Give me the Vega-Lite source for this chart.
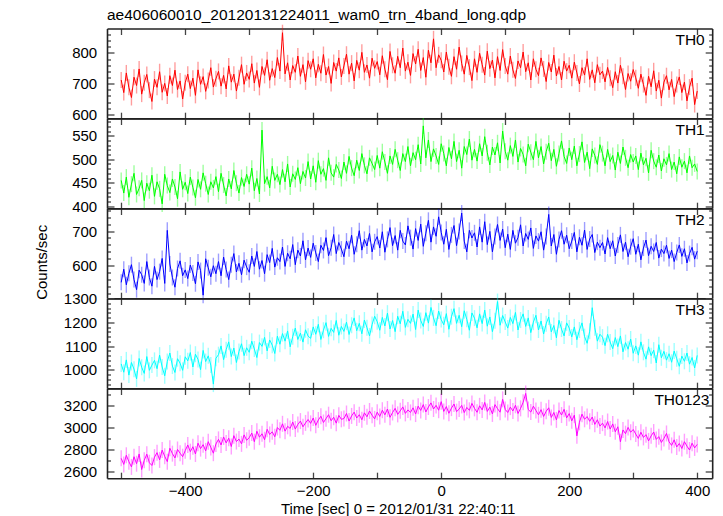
{
"$schema": "https://vega.github.io/schema/vega-lite/v6.json",
"background": "white",
"padding": {"left": 34, "top": 7.5, "right": 10.5, "bottom": 1},
"title": {"text": "ae406060010_20120131224011_wam0_trn_4band_long.qdp", "anchor": "start", "frame": "group", "fontSize": 15.5, "fontWeight": "normal", "baseline": "alphabetic", "offset": -11.2, "color": "#000", "font": "Liberation Sans"},
"datasets": {"d": [
{"t":-500,"a":712,"b":455,"c":552,"d":1025,"e":2720},
{"t":-496,"a":671,"b":428,"c":590,"d":990,"e":2665},
{"t":-492,"a":735,"b":462,"c":545,"d":1042,"e":2748},
{"t":-488,"a":688,"b":419,"c":578,"d":978,"e":2690},
{"t":-484,"a":655,"b":447,"c":603,"d":1031,"e":2642},
{"t":-480,"a":721,"b":470,"c":560,"d":1003,"e":2735},
{"t":-476,"a":694,"b":425,"c":531,"d":962,"e":2671},
{"t":-472,"a":748,"b":438,"c":587,"d":1048,"e":2760},
{"t":-468,"a":666,"b":455,"c":574,"d":1011,"e":2618},
{"t":-464,"a":703,"b":412,"c":549,"d":985,"e":2702},
{"t":-460,"a":730,"b":449,"c":612,"d":1056,"e":2758},
{"t":-456,"a":679,"b":433,"c":566,"d":998,"e":2680},
{"t":-452,"a":642,"b":466,"c":541,"d":1020,"e":2655},
{"t":-448,"a":715,"b":421,"c":598,"d":1040,"e":2731},
{"t":-444,"a":688,"b":452,"c":560,"d":1005,"e":2772},
{"t":-440,"a":739,"b":437,"c":583,"d":1062,"e":2706},
{"t":-436,"a":672,"b":405,"c":621,"d":1012,"e":2795},
{"t":-432,"a":701,"b":468,"c":549,"d":975,"e":2738},
{"t":-428,"a":660,"b":444,"c":702,"d":1035,"e":2690},
{"t":-424,"a":726,"b":429,"c":605,"d":1071,"e":2812},
{"t":-420,"a":694,"b":458,"c":566,"d":1016,"e":2763},
{"t":-416,"a":744,"b":441,"c":538,"d":989,"e":2724},
{"t":-412,"a":681,"b":416,"c":592,"d":1047,"e":2801},
{"t":-408,"a":709,"b":473,"c":614,"d":1028,"e":2767},
{"t":-404,"a":650,"b":436,"c":571,"d":998,"e":2735},
{"t":-400,"a":703,"b":451,"c":588,"d":1055,"e":2790},
{"t":-396,"a":731,"b":427,"c":563,"d":1038,"e":2842},
{"t":-392,"a":684,"b":462,"c":602,"d":1073,"e":2781},
{"t":-388,"a":718,"b":440,"c":579,"d":1012,"e":2826},
{"t":-384,"a":662,"b":418,"c":548,"d":1066,"e":2760},
{"t":-380,"a":745,"b":457,"c":611,"d":1044,"e":2858},
{"t":-376,"a":698,"b":436,"c":586,"d":1001,"e":2809},
{"t":-372,"a":723,"b":471,"c":515,"d":1082,"e":2845},
{"t":-368,"a":675,"b":448,"c":620,"d":1035,"e":2788},
{"t":-364,"a":710,"b":425,"c":594,"d":1059,"e":2872},
{"t":-360,"a":752,"b":452,"c":568,"d":1020,"e":2820},
{"t":-356,"a":689,"b":439,"c":600,"d":940,"e":2767},
{"t":-352,"a":716,"b":463,"c":577,"d":1049,"e":2851},
{"t":-348,"a":740,"b":431,"c":612,"d":1064,"e":2893},
{"t":-344,"a":692,"b":470,"c":571,"d":1101,"e":2842},
{"t":-340,"a":727,"b":445,"c":625,"d":1043,"e":2915},
{"t":-336,"a":683,"b":422,"c":589,"d":1085,"e":2861},
{"t":-332,"a":758,"b":458,"c":560,"d":1118,"e":2904},
{"t":-328,"a":705,"b":437,"c":603,"d":1056,"e":2828},
{"t":-324,"a":731,"b":476,"c":635,"d":1092,"e":2927},
{"t":-320,"a":676,"b":449,"c":582,"d":1031,"e":2873},
{"t":-316,"a":719,"b":428,"c":607,"d":1077,"e":2896},
{"t":-312,"a":762,"b":461,"c":574,"d":1110,"e":2852},
{"t":-308,"a":698,"b":442,"c":616,"d":1060,"e":2934},
{"t":-304,"a":735,"b":468,"c":596,"d":1093,"e":2885},
{"t":-300,"a":714,"b":447,"c":581,"d":1074,"e":2908},
{"t":-296,"a":765,"b":481,"c":628,"d":1121,"e":2951},
{"t":-292,"a":702,"b":433,"c":598,"d":1088,"e":2872},
{"t":-288,"a":743,"b":459,"c":641,"d":1052,"e":2967},
{"t":-284,"a":688,"b":426,"c":590,"d":1115,"e":2913},
{"t":-280,"a":756,"b":562,"c":615,"d":1099,"e":2944},
{"t":-276,"a":727,"b":448,"c":577,"d":1137,"e":2890},
{"t":-272,"a":778,"b":463,"c":632,"d":1080,"e":2985},
{"t":-268,"a":711,"b":439,"c":609,"d":1126,"e":2938},
{"t":-264,"a":749,"b":485,"c":650,"d":1104,"e":2962},
{"t":-260,"a":720,"b":455,"c":596,"d":1069,"e":2917},
{"t":-256,"a":785,"b":468,"c":623,"d":1142,"e":3001},
{"t":-252,"a":741,"b":446,"c":612,"d":1108,"e":2976},
{"t":-248,"a":866,"b":478,"c":654,"d":1153,"e":3035},
{"t":-244,"a":732,"b":452,"c":598,"d":1121,"e":2968},
{"t":-240,"a":768,"b":490,"c":636,"d":1164,"e":3012},
{"t":-236,"a":712,"b":441,"c":620,"d":1097,"e":2993},
{"t":-232,"a":759,"b":469,"c":661,"d":1140,"e":3051},
{"t":-228,"a":737,"b":457,"c":603,"d":1176,"e":2987},
{"t":-224,"a":790,"b":482,"c":645,"d":1128,"e":3029},
{"t":-220,"a":724,"b":448,"c":628,"d":1155,"e":3060},
{"t":-216,"a":762,"b":474,"c":672,"d":1117,"e":3008},
{"t":-212,"a":706,"b":460,"c":617,"d":1169,"e":3043},
{"t":-208,"a":775,"b":495,"c":651,"d":1142,"e":3074},
{"t":-204,"a":747,"b":458,"c":624,"d":1133,"e":3039},
{"t":-200,"a":781,"b":486,"c":665,"d":1181,"e":3088},
{"t":-196,"a":719,"b":451,"c":637,"d":1150,"e":3021},
{"t":-192,"a":763,"b":497,"c":612,"d":1192,"e":3070},
{"t":-188,"a":734,"b":468,"c":659,"d":1128,"e":3104},
{"t":-184,"a":795,"b":480,"c":644,"d":1167,"e":3047},
{"t":-180,"a":728,"b":455,"c":681,"d":1199,"e":3082},
{"t":-176,"a":756,"b":503,"c":629,"d":1141,"e":3118},
{"t":-172,"a":701,"b":471,"c":652,"d":1175,"e":3063},
{"t":-168,"a":769,"b":462,"c":690,"d":1158,"e":3095},
{"t":-164,"a":741,"b":489,"c":635,"d":1208,"e":3041},
{"t":-160,"a":784,"b":477,"c":667,"d":1146,"e":3112},
{"t":-156,"a":722,"b":459,"c":648,"d":1183,"e":3076},
{"t":-152,"a":758,"b":494,"c":626,"d":1162,"e":3083},
{"t":-148,"a":796,"b":470,"c":671,"d":1201,"e":3129},
{"t":-144,"a":731,"b":506,"c":649,"d":1149,"e":3060},
{"t":-140,"a":767,"b":481,"c":688,"d":1188,"e":3107},
{"t":-136,"a":709,"b":465,"c":633,"d":1219,"e":3141},
{"t":-132,"a":776,"b":498,"c":662,"d":1165,"e":3088},
{"t":-128,"a":744,"b":476,"c":701,"d":1196,"e":3118},
{"t":-124,"a":802,"b":512,"c":645,"d":1152,"e":3072},
{"t":-120,"a":737,"b":487,"c":676,"d":1210,"e":3135},
{"t":-116,"a":761,"b":469,"c":657,"d":1178,"e":3099},
{"t":-112,"a":718,"b":503,"c":693,"d":1143,"e":3152},
{"t":-108,"a":783,"b":491,"c":640,"d":1191,"e":3113},
{"t":-104,"a":750,"b":478,"c":669,"d":1226,"e":3080},
{"t":-100,"a":772,"b":508,"c":684,"d":1203,"e":3141},
{"t":-96,"a":729,"b":481,"c":651,"d":1167,"e":3102},
{"t":-92,"a":791,"b":516,"c":698,"d":1221,"e":3159},
{"t":-88,"a":747,"b":494,"c":639,"d":1185,"e":3117},
{"t":-84,"a":713,"b":470,"c":676,"d":1239,"e":3170},
{"t":-80,"a":805,"b":507,"c":710,"d":1172,"e":3094},
{"t":-76,"a":760,"b":489,"c":658,"d":1208,"e":3138},
{"t":-72,"a":734,"b":521,"c":687,"d":1161,"e":3176},
{"t":-68,"a":789,"b":498,"c":645,"d":1226,"e":3121},
{"t":-64,"a":752,"b":476,"c":702,"d":1194,"e":3153},
{"t":-60,"a":816,"b":512,"c":671,"d":1247,"e":3189},
{"t":-56,"a":741,"b":495,"c":660,"d":1179,"e":3130},
{"t":-52,"a":770,"b":527,"c":715,"d":1213,"e":3162},
{"t":-48,"a":727,"b":486,"c":681,"d":1196,"e":3139},
{"t":-44,"a":798,"b":514,"c":648,"d":1235,"e":3181},
{"t":-40,"a":764,"b":499,"c":707,"d":1170,"e":3124},
{"t":-36,"a":812,"b":531,"c":673,"d":1252,"e":3196},
{"t":-32,"a":743,"b":490,"c":720,"d":1208,"e":3157},
{"t":-28,"a":785,"b":571,"c":656,"d":1183,"e":3210},
{"t":-24,"a":721,"b":503,"c":694,"d":1241,"e":3143},
{"t":-20,"a":809,"b":541,"c":731,"d":1197,"e":3188},
{"t":-16,"a":768,"b":495,"c":668,"d":1263,"e":3226},
{"t":-12,"a":846,"b":522,"c":712,"d":1219,"e":3170},
{"t":-8,"a":752,"b":507,"c":685,"d":1186,"e":3203},
{"t":-4,"a":794,"b":489,"c":741,"d":1248,"e":3159},
{"t":0,"a":776,"b":533,"c":696,"d":1212,"e":3237},
{"t":4,"a":738,"b":512,"c":662,"d":1190,"e":3148},
{"t":8,"a":803,"b":486,"c":705,"d":1237,"e":3192},
{"t":12,"a":755,"b":525,"c":647,"d":1171,"e":3131},
{"t":16,"a":724,"b":501,"c":689,"d":1224,"e":3178},
{"t":20,"a":788,"b":538,"c":716,"d":1258,"e":3215},
{"t":24,"a":747,"b":495,"c":658,"d":1196,"e":3146},
{"t":28,"a":819,"b":519,"c":699,"d":1230,"e":3169},
{"t":32,"a":766,"b":481,"c":752,"d":1182,"e":3203},
{"t":36,"a":731,"b":527,"c":671,"d":1249,"e":3137},
{"t":40,"a":792,"b":510,"c":640,"d":1213,"e":3184},
{"t":44,"a":754,"b":543,"c":702,"d":1167,"e":3158},
{"t":48,"a":710,"b":498,"c":680,"d":1240,"e":3221},
{"t":52,"a":781,"b":521,"c":695,"d":1218,"e":3176},
{"t":56,"a":737,"b":496,"c":654,"d":1177,"e":3140},
{"t":60,"a":799,"b":533,"c":712,"d":1236,"e":3199},
{"t":64,"a":762,"b":507,"c":668,"d":1195,"e":3162},
{"t":68,"a":728,"b":548,"c":727,"d":1252,"e":3230},
{"t":72,"a":806,"b":514,"c":661,"d":1184,"e":3148},
{"t":76,"a":749,"b":488,"c":699,"d":1223,"e":3187},
{"t":80,"a":777,"b":526,"c":640,"d":1161,"e":3125},
{"t":84,"a":719,"b":509,"c":684,"d":1207,"e":3210},
{"t":88,"a":788,"b":535,"c":719,"d":1288,"e":3173},
{"t":92,"a":743,"b":492,"c":673,"d":1188,"e":3141},
{"t":96,"a":811,"b":560,"c":706,"d":1229,"e":3258},
{"t":100,"a":758,"b":517,"c":652,"d":1202,"e":3166},
{"t":104,"a":731,"b":498,"c":691,"d":1176,"e":3138},
{"t":108,"a":790,"b":529,"c":647,"d":1221,"e":3187},
{"t":112,"a":745,"b":506,"c":702,"d":1195,"e":3152},
{"t":116,"a":717,"b":541,"c":665,"d":1242,"e":3204},
{"t":120,"a":774,"b":494,"c":681,"d":1168,"e":3129},
{"t":124,"a":752,"b":523,"c":718,"d":1210,"e":3176},
{"t":128,"a":803,"b":510,"c":657,"d":1236,"e":3231},
{"t":132,"a":739,"b":486,"c":693,"d":1183,"e":3312},
{"t":136,"a":768,"b":532,"c":676,"d":1219,"e":3165},
{"t":140,"a":712,"b":515,"c":709,"d":1157,"e":3142},
{"t":144,"a":781,"b":499,"c":650,"d":1201,"e":3196},
{"t":148,"a":747,"b":538,"c":686,"d":1230,"e":3157},
{"t":152,"a":726,"b":503,"c":671,"d":1168,"e":3117},
{"t":156,"a":784,"b":527,"c":698,"d":1206,"e":3164},
{"t":160,"a":748,"b":490,"c":645,"d":1151,"e":3102},
{"t":164,"a":707,"b":516,"c":684,"d":1194,"e":3149},
{"t":168,"a":769,"b":534,"c":748,"d":1223,"e":3181},
{"t":172,"a":738,"b":497,"c":657,"d":1160,"e":3093},
{"t":176,"a":793,"b":521,"c":690,"d":1187,"e":3138},
{"t":180,"a":725,"b":485,"c":633,"d":1135,"e":3071},
{"t":184,"a":756,"b":512,"c":676,"d":1209,"e":3156},
{"t":188,"a":712,"b":539,"c":701,"d":1172,"e":3115},
{"t":192,"a":773,"b":506,"c":662,"d":1143,"e":3167},
{"t":196,"a":741,"b":491,"c":688,"d":1198,"e":3089},
{"t":200,"a":760,"b":524,"c":649,"d":1176,"e":3128},
{"t":204,"a":718,"b":499,"c":671,"d":1139,"e":3062},
{"t":208,"a":770,"b":528,"c":696,"d":1181,"e":3114},
{"t":212,"a":735,"b":486,"c":640,"d":1127,"e":2925},
{"t":216,"a":699,"b":511,"c":682,"d":1168,"e":3049},
{"t":220,"a":752,"b":537,"c":659,"d":1198,"e":3123},
{"t":224,"a":728,"b":493,"c":703,"d":1140,"e":3076},
{"t":228,"a":781,"b":515,"c":647,"d":1112,"e":3101},
{"t":232,"a":714,"b":480,"c":677,"d":1163,"e":3058},
{"t":236,"a":745,"b":522,"c":690,"d":1262,"e":3097},
{"t":240,"a":703,"b":508,"c":638,"d":1178,"e":3030},
{"t":244,"a":762,"b":489,"c":668,"d":1121,"e":3072},
{"t":248,"a":729,"b":531,"c":652,"d":1150,"e":3014},
{"t":252,"a":741,"b":512,"c":667,"d":1138,"e":3041},
{"t":256,"a":706,"b":486,"c":634,"d":1102,"e":2998},
{"t":260,"a":753,"b":521,"c":681,"d":1150,"e":3056},
{"t":264,"a":718,"b":495,"c":649,"d":1117,"e":2987},
{"t":268,"a":687,"b":508,"c":672,"d":1089,"e":3034},
{"t":272,"a":739,"b":477,"c":628,"d":1136,"e":2962},
{"t":276,"a":702,"b":515,"c":660,"d":1098,"e":3008},
{"t":280,"a":760,"b":491,"c":689,"d":1143,"e":2871},
{"t":284,"a":724,"b":526,"c":641,"d":1076,"e":2979},
{"t":288,"a":681,"b":503,"c":668,"d":1115,"e":2945},
{"t":292,"a":733,"b":482,"c":626,"d":1087,"e":3002},
{"t":296,"a":708,"b":510,"c":655,"d":1130,"e":2958},
{"t":300,"a":746,"b":494,"c":678,"d":1070,"e":2983},
{"t":304,"a":719,"b":507,"c":633,"d":1101,"e":2941},
{"t":308,"a":685,"b":478,"c":662,"d":1062,"e":2902},
{"t":312,"a":731,"b":513,"c":617,"d":1118,"e":2958},
{"t":316,"a":697,"b":488,"c":651,"d":1074,"e":2911},
{"t":320,"a":662,"b":502,"c":674,"d":1045,"e":2936},
{"t":324,"a":724,"b":471,"c":629,"d":1097,"e":2879},
{"t":328,"a":690,"b":519,"c":656,"d":1060,"e":2925},
{"t":332,"a":742,"b":496,"c":641,"d":1083,"e":2960},
{"t":336,"a":676,"b":483,"c":667,"d":1029,"e":2893},
{"t":340,"a":711,"b":509,"c":622,"d":1106,"e":2918},
{"t":344,"a":653,"b":475,"c":648,"d":1051,"e":2865},
{"t":348,"a":705,"b":501,"c":635,"d":1078,"e":2902},
{"t":352,"a":726,"b":488,"c":659,"d":1041,"e":2947},
{"t":356,"a":680,"b":512,"c":621,"d":1068,"e":2871},
{"t":360,"a":714,"b":478,"c":645,"d":1032,"e":2838},
{"t":364,"a":658,"b":494,"c":612,"d":1079,"e":2889},
{"t":368,"a":697,"b":469,"c":638,"d":1047,"e":2824},
{"t":372,"a":722,"b":505,"c":660,"d":1015,"e":2855},
{"t":376,"a":671,"b":483,"c":627,"d":1058,"e":2810},
{"t":380,"a":705,"b":496,"c":649,"d":1036,"e":2872},
{"t":384,"a":644,"b":471,"c":608,"d":1071,"e":2831},
{"t":388,"a":689,"b":507,"c":635,"d":1024,"e":2796},
{"t":392,"a":718,"b":482,"c":653,"d":1052,"e":2858},
{"t":396,"a":632,"b":490,"c":619,"d":1008,"e":2815},
{"t":400,"a":676,"b":474,"c":642,"d":1061,"e":2847}
]},
"data": {"name": "d"},
"spacing": 0,
"bounds": "flush",
"vconcat": [
{
"width": 605.2, "height": 89.7,
"layer": [
{"mark": {"type": "tick", "orient": "vertical", "size": 16, "thickness": 1.4, "color": "#ff0000", "opacity": 0.38},
 "encoding": {
  "x": {"field": "t", "type": "quantitative", "scale": {"domain": [-522.2, 423.4], "nice": false, "zero": false},
        "axis": {"orient": "bottom", "values": [-500,-400,-300,-200,-100,0,100,200,300,400], "tickSize": -6, "labels": false, "title": null}},
  "y": {"field": "a", "type": "quantitative", "scale": {"domain": [587.6, 879.7], "nice": false, "zero": false},
        "axis": {"orient": "left", "format": "d", "values": [600,620,640,660,680,700,720,740,760,780,800,820,840,860], "tickSize": {"condition": {"test": "datum.value % 100 === 0", "value": -7}, "value": -3.5}, "labelExpr": "datum.value % 100 === 0 ? datum.label : ''", "labelPadding": 17.3, "title": null}}
 }},
{"mark": {"type": "line", "color": "#ff0000", "strokeWidth": 1},
 "encoding": {
  "x": {"field": "t", "type": "quantitative", "axis": {"orient": "top", "values": [-500,-400,-300,-200,-100,0,100,200,300,400], "tickSize": -6, "labels": false,
        "title": "TH0", "titleX": 597.2, "titleY": 16, "titleAlign": "right", "titleBaseline": "alphabetic", "titleFontSize": 15.5}},
  "y": {"field": "a", "type": "quantitative", "axis": {"orient": "right", "values": [600,620,640,660,680,700,720,740,760,780,800,820,840,860], "tickSize": {"condition": {"test": "datum.value % 100 === 0", "value": -7}, "value": -3.5}, "labels": false, "title": null}}
 }}
],
"resolve": {"axis": {"x": "independent", "y": "independent"}}
},
{
"width": 605.2, "height": 89.7,
"layer": [
{"mark": {"type": "tick", "orient": "vertical", "size": 16, "thickness": 1.4, "color": "#00ff00", "opacity": 0.38},
 "encoding": {
  "x": {"field": "t", "type": "quantitative", "scale": {"domain": [-522.2, 423.4], "nice": false, "zero": false},
        "axis": {"orient": "bottom", "values": [-500,-400,-300,-200,-100,0,100,200,300,400], "tickSize": -6, "labels": false, "title": null}},
  "y": {"field": "b", "type": "quantitative", "scale": {"domain": [395.8, 586.7], "nice": false, "zero": false},
        "axis": {"orient": "left", "format": "d", "values": [400,410,420,430,440,450,460,470,480,490,500,510,520,530,540,550,560,570,580], "tickSize": {"condition": {"test": "datum.value % 50 === 0", "value": -7}, "value": -3.5}, "labelExpr": "datum.value % 50 === 0 ? datum.label : ''", "labelPadding": 17.3, "title": null}}
 }},
{"mark": {"type": "line", "color": "#00ff00", "strokeWidth": 1},
 "encoding": {
  "x": {"field": "t", "type": "quantitative", "axis": {"orient": "top", "values": [-500,-400,-300,-200,-100,0,100,200,300,400], "tickSize": -6, "labels": false,
        "title": "TH1", "titleX": 597.2, "titleY": 16, "titleAlign": "right", "titleBaseline": "alphabetic", "titleFontSize": 15.5}},
  "y": {"field": "b", "type": "quantitative", "axis": {"orient": "right", "values": [400,410,420,430,440,450,460,470,480,490,500,510,520,530,540,550,560,570,580], "tickSize": {"condition": {"test": "datum.value % 50 === 0", "value": -7}, "value": -3.5}, "labels": false, "title": null}}
 }}
],
"resolve": {"axis": {"x": "independent", "y": "independent"}}
},
{
"width": 605.2, "height": 89.7,
"layer": [
{"mark": {"type": "tick", "orient": "vertical", "size": 16, "thickness": 1.4, "color": "#0000ff", "opacity": 0.38},
 "encoding": {
  "x": {"field": "t", "type": "quantitative", "scale": {"domain": [-522.2, 423.4], "nice": false, "zero": false},
        "axis": {"orient": "bottom", "values": [-500,-400,-300,-200,-100,0,100,200,300,400], "tickSize": -6, "labels": false, "title": null}},
  "y": {"field": "c", "type": "quantitative", "scale": {"domain": [506.3, 765.1], "nice": false, "zero": false},
        "axis": {"orient": "left", "format": "d", "values": [520,540,560,580,600,620,640,660,680,700,720,740,760], "tickSize": {"condition": {"test": "datum.value % 100 === 0", "value": -7}, "value": -3.5}, "labelExpr": "datum.value % 100 === 0 ? datum.label : ''", "labelPadding": 17.3,
                 "title": "Counts/sec", "titleX": -60.6, "titleY": 53.3, "titleBaseline": "alphabetic", "titleAlign": "center", "titleAngle": 270}}
 }},
{"mark": {"type": "line", "color": "#0000ff", "strokeWidth": 1},
 "encoding": {
  "x": {"field": "t", "type": "quantitative", "axis": {"orient": "top", "values": [-500,-400,-300,-200,-100,0,100,200,300,400], "tickSize": -6, "labels": false,
        "title": "TH2", "titleX": 597.2, "titleY": 16, "titleAlign": "right", "titleBaseline": "alphabetic", "titleFontSize": 15.5}},
  "y": {"field": "c", "type": "quantitative", "axis": {"orient": "right", "values": [520,540,560,580,600,620,640,660,680,700,720,740,760], "tickSize": {"condition": {"test": "datum.value % 100 === 0", "value": -7}, "value": -3.5}, "labels": false, "title": null}}
 }}
],
"resolve": {"axis": {"x": "independent", "y": "independent"}}
},
{
"width": 605.2, "height": 89.7,
"layer": [
{"mark": {"type": "tick", "orient": "vertical", "size": 16, "thickness": 1.4, "color": "#00ffff", "opacity": 0.38},
 "encoding": {
  "x": {"field": "t", "type": "quantitative", "scale": {"domain": [-522.2, 423.4], "nice": false, "zero": false},
        "axis": {"orient": "bottom", "values": [-500,-400,-300,-200,-100,0,100,200,300,400], "tickSize": -6, "labels": false, "title": null}},
  "y": {"field": "d", "type": "quantitative", "scale": {"domain": [922.7, 1300.8], "nice": false, "zero": false},
        "axis": {"orient": "left", "format": "d", "values": [940,960,980,1000,1020,1040,1060,1080,1100,1120,1140,1160,1180,1200,1220,1240,1260,1280,1300], "tickSize": {"condition": {"test": "datum.value % 100 === 0", "value": -7}, "value": -3.5}, "labelExpr": "datum.value % 100 === 0 ? datum.label : ''", "labelPadding": 17.3, "title": null}}
 }},
{"mark": {"type": "line", "color": "#00ffff", "strokeWidth": 1},
 "encoding": {
  "x": {"field": "t", "type": "quantitative", "axis": {"orient": "top", "values": [-500,-400,-300,-200,-100,0,100,200,300,400], "tickSize": -6, "labels": false,
        "title": "TH3", "titleX": 597.2, "titleY": 16, "titleAlign": "right", "titleBaseline": "alphabetic", "titleFontSize": 15.5}},
  "y": {"field": "d", "type": "quantitative", "axis": {"orient": "right", "values": [940,960,980,1000,1020,1040,1060,1080,1100,1120,1140,1160,1180,1200,1220,1240,1260,1280,1300], "tickSize": {"condition": {"test": "datum.value % 100 === 0", "value": -7}, "value": -3.5}, "labels": false, "title": null}}
 }}
],
"resolve": {"axis": {"x": "independent", "y": "independent"}}
},
{
"width": 605.2, "height": 89.7,
"layer": [
{"mark": {"type": "tick", "orient": "vertical", "size": 16, "thickness": 1.4, "color": "#ff00ff", "opacity": 0.38},
 "encoding": {
  "x": {"field": "t", "type": "quantitative", "scale": {"domain": [-522.2, 423.4], "nice": false, "zero": false},
        "axis": {"orient": "bottom", "format": "d", "values": [-500,-400,-300,-200,-100,0,100,200,300,400], "tickSize": -6, "labelExpr": "datum.value % 200 === 0 ? datum.label : ''", "labelPadding": 23.3, "labelBaseline": "alphabetic",
                 "title": "Time [sec] 0 = 2012/01/31 22:40:11", "titleX": 290.7, "titleY": 35.2, "titleBaseline": "alphabetic", "titleAlign": "center"}},
  "y": {"field": "e", "type": "quantitative", "scale": {"domain": [2539, 3357], "nice": false, "zero": false},
        "axis": {"orient": "left", "format": "d", "values": [2600,2700,2800,2900,3000,3100,3200,3300], "tickSize": {"condition": {"test": "datum.value % 200 === 0", "value": -7}, "value": -3.5}, "labelExpr": "datum.value % 200 === 0 ? datum.label : ''", "labelPadding": 17.3, "title": null}}
 }},
{"mark": {"type": "line", "color": "#ff00ff", "strokeWidth": 1},
 "encoding": {
  "x": {"field": "t", "type": "quantitative", "axis": {"orient": "top", "values": [-500,-400,-300,-200,-100,0,100,200,300,400], "tickSize": -6, "labels": false,
        "title": "TH0123", "titleX": 602, "titleY": 16, "titleAlign": "right", "titleBaseline": "alphabetic", "titleFontSize": 15.5}},
  "y": {"field": "e", "type": "quantitative", "axis": {"orient": "right", "values": [2600,2700,2800,2900,3000,3100,3200,3300], "tickSize": {"condition": {"test": "datum.value % 200 === 0", "value": -7}, "value": -3.5}, "labels": false, "title": null}}
 }}
],
"resolve": {"axis": {"x": "independent", "y": "independent"}}
}
],
"config": {
 "font": "Liberation Sans",
 "view": {"stroke": null},
 "axis": {"domainColor": "#222", "domainWidth": 1.6, "tickColor": "#444", "tickWidth": 1.3, "labelFontSize": 15, "labelColor": "#000", "labelFont": "Liberation Sans", "titleFont": "Liberation Sans", "titleFontSize": 15, "titleFontWeight": "normal", "titleColor": "#000", "grid": false, "labelOverlap": false, "labelFlush": false, "zindex": 1}
}
}
